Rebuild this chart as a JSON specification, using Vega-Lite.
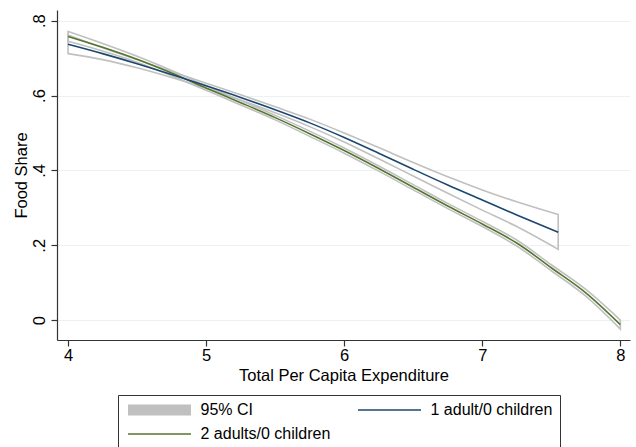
{
  "$schema": "https://vega.github.io/schema/vega-lite/v6.json",
  "width": 573,
  "height": 330,
  "autosize": "none",
  "padding": {"left": 57, "top": 10, "right": 6, "bottom": 107},
  "background": "white",
  "config": {
    "view": {"stroke": null},
    "font": "Liberation Sans"
  },
  "data": {
    "values": [
      {"x": 4.0, "g": "2 adults/0 children", "y": 0.758, "lo": 0.745, "hi": 0.771},
      {"x": 4.25, "g": "2 adults/0 children", "y": 0.729, "lo": 0.719, "hi": 0.739},
      {"x": 4.5, "g": "2 adults/0 children", "y": 0.697, "lo": 0.689, "hi": 0.705},
      {"x": 4.75, "g": "2 adults/0 children", "y": 0.660, "lo": 0.653, "hi": 0.667},
      {"x": 5.0, "g": "2 adults/0 children", "y": 0.620, "lo": 0.614, "hi": 0.626},
      {"x": 5.25, "g": "2 adults/0 children", "y": 0.581, "lo": 0.575, "hi": 0.587},
      {"x": 5.5, "g": "2 adults/0 children", "y": 0.541, "lo": 0.535, "hi": 0.547},
      {"x": 5.75, "g": "2 adults/0 children", "y": 0.498, "lo": 0.491, "hi": 0.505},
      {"x": 6.0, "g": "2 adults/0 children", "y": 0.453, "lo": 0.446, "hi": 0.460},
      {"x": 6.25, "g": "2 adults/0 children", "y": 0.405, "lo": 0.398, "hi": 0.412},
      {"x": 6.5, "g": "2 adults/0 children", "y": 0.355, "lo": 0.348, "hi": 0.362},
      {"x": 6.75, "g": "2 adults/0 children", "y": 0.305, "lo": 0.298, "hi": 0.312},
      {"x": 7.0, "g": "2 adults/0 children", "y": 0.257, "lo": 0.250, "hi": 0.264},
      {"x": 7.25, "g": "2 adults/0 children", "y": 0.206, "lo": 0.198, "hi": 0.214},
      {"x": 7.5, "g": "2 adults/0 children", "y": 0.140, "lo": 0.132, "hi": 0.148},
      {"x": 7.75, "g": "2 adults/0 children", "y": 0.073, "lo": 0.064, "hi": 0.082},
      {"x": 8.0, "g": "2 adults/0 children", "y": -0.012, "lo": -0.024, "hi": 0.000},
      {"x": 4.0, "g": "1 adult/0 children", "y": 0.737, "lo": 0.712, "hi": 0.762},
      {"x": 4.25, "g": "1 adult/0 children", "y": 0.712, "lo": 0.696, "hi": 0.728},
      {"x": 4.5, "g": "1 adult/0 children", "y": 0.685, "lo": 0.674, "hi": 0.696},
      {"x": 4.75, "g": "1 adult/0 children", "y": 0.656, "lo": 0.648, "hi": 0.664},
      {"x": 5.0, "g": "1 adult/0 children", "y": 0.626, "lo": 0.619, "hi": 0.633},
      {"x": 5.25, "g": "1 adult/0 children", "y": 0.595, "lo": 0.588, "hi": 0.602},
      {"x": 5.5, "g": "1 adult/0 children", "y": 0.562, "lo": 0.554, "hi": 0.570},
      {"x": 5.75, "g": "1 adult/0 children", "y": 0.527, "lo": 0.517, "hi": 0.537},
      {"x": 6.0, "g": "1 adult/0 children", "y": 0.488, "lo": 0.476, "hi": 0.500},
      {"x": 6.25, "g": "1 adult/0 children", "y": 0.446, "lo": 0.431, "hi": 0.461},
      {"x": 6.5, "g": "1 adult/0 children", "y": 0.403, "lo": 0.385, "hi": 0.421},
      {"x": 6.75, "g": "1 adult/0 children", "y": 0.361, "lo": 0.339, "hi": 0.383},
      {"x": 7.0, "g": "1 adult/0 children", "y": 0.321, "lo": 0.294, "hi": 0.348},
      {"x": 7.25, "g": "1 adult/0 children", "y": 0.281, "lo": 0.250, "hi": 0.316},
      {"x": 7.55, "g": "1 adult/0 children", "y": 0.235, "lo": 0.189, "hi": 0.282}
    ]
  },
  "encoding": {
    "x": {
      "field": "x", "type": "quantitative",
      "scale": {"domain": [3.92, 8.07], "nice": false, "zero": false},
      "axis": {
        "title": "Total Per Capita Expenditure",
        "values": [4, 5, 6, 7, 8],
        "grid": false,
        "domainColor": "#333", "domainWidth": 1.2,
        "tickColor": "#333", "tickSize": 6, "tickWidth": 1.2,
        "labelFontSize": 16.5, "labelColor": "black", "labelPadding": 1,
        "titleFontSize": 16.5, "titleFontWeight": "normal", "titleColor": "black", "titlePadding": 4
      }
    }
  },
  "layer": [
    {
      "mark": {"type": "area", "fillOpacity": 0, "stroke": "#c0c0c0", "strokeWidth": 1.6, "interpolate": "monotone"},
      "encoding": {
        "y": {
          "field": "lo", "type": "quantitative",
          "scale": {"domain": [-0.053, 0.8285], "nice": false, "zero": false},
          "axis": {
            "title": "Food Share",
            "values": [0, 0.2, 0.4, 0.6, 0.8],
            "labelExpr": "replace(format(datum.value, '.1~f'), '0.', '.')",
            "labelAngle": -90, "labelAlign": "center", "labelBaseline": "bottom",
            "grid": true, "gridColor": "#eaf2f3", "gridWidth": 1.2,
            "domainColor": "#333", "domainWidth": 1.2,
            "tickColor": "#333", "tickSize": 6, "tickWidth": 1.2,
            "labelFontSize": 16.5, "labelColor": "black", "labelPadding": 4,
            "titleFontSize": 16.5, "titleFontWeight": "normal", "titleColor": "black", "titlePadding": 2
          }
        },
        "y2": {"field": "hi"},
        "detail": {"field": "g"}
      }
    },
    {
      "mark": {"type": "line", "strokeWidth": 1.6, "interpolate": "monotone"},
      "encoding": {
        "y": {"field": "y", "type": "quantitative"},
        "color": {
          "field": "g", "type": "nominal",
          "scale": {
            "domain": ["95% CI", "1 adult/0 children", "2 adults/0 children"],
            "range": ["#c0c0c0", "#1a476f", "#55752f"]
          },
          "legend": {
            "title": null,
            "orient": "none",
            "legendX": 61,
            "legendY": 385,
            "columns": 2,
            "direction": "horizontal",
            "symbolSize": 100,
            "symbolOffset": 26.5,
            "labelOffset": 33,
            "labelFontSize": 16,
            "labelColor": "black",
            "labelFont": "Liberation Sans",
            "rowPadding": 8,
            "columnPadding": 24,
            "padding": 7,
            "strokeColor": "#333",
            "fillColor": "white",
            "encode": {
              "symbols": {
                "update": {
                  "shape": {"signal": "datum.value === '95% CI' ? 'M-6.3,-1.1H6.3V1.1H-6.3Z' : 'M-6.3,0H6.3'"},
                  "fill": {"signal": "datum.value === '95% CI' ? '#c0c0c0' : 'transparent'"},
                  "strokeWidth": {"signal": "datum.value === '95% CI' ? 0 : 1.5"}
                }
              }
            }
          }
        }
      }
    }
  ]
}
